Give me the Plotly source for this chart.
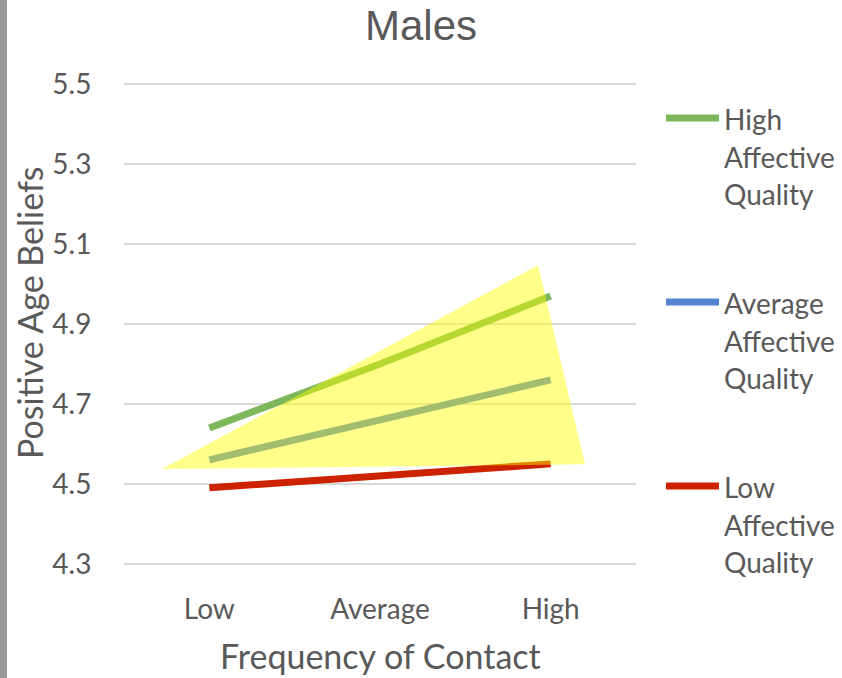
import plotly.graph_objects as go

# Frequency of contact categories and predicted positive age beliefs
contact_levels = ["Low", "Average", "High"]
high_affective = [4.64, 4.80, 4.97]
average_affective = [4.56, 4.66, 4.76]
low_affective = [4.49, 4.52, 4.55]

series_names = ["High Affective Quality",
                "Average Affective Quality",
                "Low Affective Quality"]
series_values = [high_affective, average_affective, low_affective]
series_colors = ["#7DB75B", "#5585D0", "#CC2200"]

y_ticks = [4.3, 4.5, 4.7, 4.9, 5.1, 5.3, 5.5]

TEXT = "#595959"
FONT = "Lato"

W, H = 842, 678
ML, MR, MT, MB = 124, 206, 83, 113
PW, PH = W - ML - MR, H - MT - MB


def px_x(p):
    return (p - ML) / PW


def px_y(p):
    return (H - MB - p) / PH


x_pos = list(range(len(contact_levels)))

fig = go.Figure()
for name, vals, col in zip(series_names, series_values, series_colors):
    fig.add_trace(go.Scatter(
        x=x_pos, y=vals, mode="lines", name=name,
        line=dict(color=col, width=7), showlegend=False,
    ))

shapes = []
# highlighted region drawn over the lines
shapes.append(dict(
    type="path", xref="x", yref="y", layer="above",
    path="M -0.277 4.537 L 1.926 5.047 L 2.201 4.549 Z",
    fillcolor="rgba(255,255,0,0.46)", line=dict(width=0),
))
# grey strip along the left edge of the page
shapes.append(dict(
    type="rect", xref="paper", yref="paper", layer="above",
    x0=px_x(0), x1=px_x(7), y0=px_y(H), y1=px_y(0),
    fillcolor="#9A9A9A", line=dict(width=0),
))

annotations = []
# legend: coloured swatch plus label wrapped over three lines
swatch_y = [118, 302, 486]
line_gap = 37.5
for name, col, sy in zip(series_names, series_colors, swatch_y):
    shapes.append(dict(
        type="line", xref="paper", yref="paper",
        x0=px_x(666), x1=px_x(719), y0=px_y(sy), y1=px_y(sy),
        line=dict(color=col, width=7),
    ))
    words = name.split(" ")
    for i, word in enumerate(words):
        annotations.append(dict(
            xref="paper", yref="paper", x=px_x(722), y=px_y(sy + 1 + i * line_gap),
            xanchor="left", yanchor="middle", align="left", showarrow=False,
            text=word, font=dict(family=FONT, size=28, color=TEXT),
        ))

# axis titles
annotations.append(dict(
    xref="paper", yref="paper", x=0.5, y=px_y(677),
    xanchor="center", yanchor="bottom", showarrow=False, borderpad=0,
    text="Frequency of Contact", font=dict(family=FONT, size=34, color=TEXT),
))
annotations.append(dict(
    xref="paper", yref="paper", x=px_x(29), y=px_y(313),
    xanchor="center", yanchor="middle", showarrow=False, textangle=-90,
    text="Positive Age Beliefs", font=dict(family=FONT, size=34, color=TEXT),
))

fig.update_layout(
    width=W, height=H,
    margin=dict(l=ML, r=MR, t=MT, b=MB),
    paper_bgcolor="white", plot_bgcolor="white",
    title=dict(text="Males", x=0.5, xref="container", xanchor="center",
               y=1 - 25 / H, yanchor="middle", yref="container",
               font=dict(family="Liberation Sans", size=42, color=TEXT)),
    shapes=shapes, annotations=annotations,
    showlegend=False,
)

fig.update_xaxes(
    range=[-0.5, 2.5], tickmode="array", tickvals=x_pos, ticktext=contact_levels,
    showgrid=False, zeroline=False, showline=False, automargin=False,
    ticks="outside", ticklen=19, tickcolor="rgba(0,0,0,0)",
    tickfont=dict(family=FONT, size=28, color=TEXT),
)
fig.update_yaxes(
    range=[4.297, 5.503], tickmode="array", tickvals=y_ticks,
    ticktext=[f"{v:.1f}" for v in y_ticks],
    showgrid=True, gridcolor="#D9D9D9", gridwidth=1.5,
    zeroline=False, showline=False, automargin=False,
    ticks="outside", ticklen=26, tickcolor="rgba(0,0,0,0)",
    tickfont=dict(family=FONT, size=28, color=TEXT),
)

fig.write_html("out.html")
